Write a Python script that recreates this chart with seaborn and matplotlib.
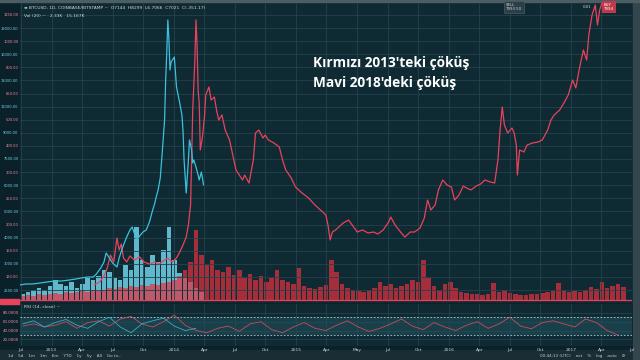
import numpy as np
import matplotlib
matplotlib.use('Agg')
import matplotlib.pyplot as plt
import seaborn as sns

# 2013 crash (red) and 2018 crash (cyan)
red_t = [4.1, 4.6, 5.0, 5.3, 5.6, 5.9, 6.2, 6.4, 6.6, 6.8, 7.1, 7.4, 7.8, 8.3, 8.7, 9.2, 9.7, 10.1,
         10.6, 10.9, 11.3, 11.7, 12.0, 12.3, 12.6, 12.8, 13.0, 13.1, 13.2, 13.4, 13.5, 13.6, 13.7,
         13.8, 13.9, 14.1, 14.3, 14.4, 14.7, 14.9, 15.2, 15.4, 15.6, 15.9, 16.2, 16.6, 16.8, 17.2,
         17.5, 17.8, 18.0, 18.4, 18.8, 19.0, 19.3, 19.7, 19.9, 20.2, 20.7, 21.2, 21.5, 21.8, 22.3,
         22.7, 23.3, 23.9, 24.5, 25.0, 25.5, 25.7, 25.9, 26.1, 26.4, 26.8, 27.1, 27.6, 28.0, 28.4,
         28.9, 29.4, 29.9, 30.3, 30.8, 31.3, 31.5, 31.9, 32.4, 32.8, 33.3, 33.7, 34.2, 34.6, 34.9,
         35.2, 35.6, 35.9, 36.3, 36.7, 37.1, 37.4, 37.8, 38.2, 38.5, 38.9, 39.4, 39.8, 40.2, 40.7,
         41.1, 41.4, 41.6, 41.8, 42.0, 42.3, 42.7, 42.9, 43.1, 43.2, 43.4, 43.8, 44.1, 44.6, 45.1,
         45.5, 46.0, 46.3, 46.6, 47.1, 47.5, 47.9, 48.3, 48.6, 48.9, 49.3, 49.6, 49.8, 50.1, 50.4,
         50.6, 50.8, 51.1, 51.4]
red_p = [15, 18, 24, 32, 45, 38, 62, 50, 56, 42, 38, 44, 40, 43, 38, 36, 38, 36,
         40, 42, 38, 42, 48, 55, 63, 75, 95, 140, 190, 240, 280, 255, 210,
         197, 150, 163, 185, 205, 213, 200, 203, 190, 180, 185, 170, 160, 150, 130,
         125, 120, 125, 117, 140, 167, 170, 162, 165, 160, 157, 153, 140, 130, 122,
         113, 107, 102, 95, 90, 85, 75, 60, 68, 70, 74, 77, 80, 74, 68,
         70, 67, 68, 66, 70, 78, 83, 75, 68, 63, 68, 68, 72, 82, 100,
         90, 95, 110, 120, 115, 113, 100, 105, 114, 112, 110, 114, 116, 120, 118,
         117, 140, 170, 193, 175, 167, 172, 167, 155, 125, 150, 148, 155, 157, 158,
         160, 170, 180, 185, 190, 197, 205, 220, 212, 230, 250, 240, 265, 285, 295,
         275, 290, 300, 310]

blue_t = [-2.8, -2.2, -1.6, -0.9, -0.3, 0.5, 1.1, 1.8, 2.4, 2.9, 3.5, 4.0, 4.3, 4.7, 5.0, 5.2,
          5.5, 5.8, 6.2, 6.4, 6.7, 7.1, 7.4, 7.6, 7.8, 8.0, 8.3, 8.6, 8.9, 9.2, 9.5, 9.7, 9.8,
          10.0, 10.2, 10.4, 10.6, 10.7, 10.8, 10.9, 11.0, 11.1, 11.2, 11.5, 11.7, 12.0, 12.2,
          12.3, 12.4, 12.6, 12.8, 12.9, 13.1, 13.2, 13.3, 13.5, 13.7, 13.8, 14.0, 14.2]
blue_p = [15, 16, 16, 17, 18, 19, 19, 20, 21, 22, 23, 23, 26, 32, 38, 47,
          42, 37, 33, 42, 52, 63, 70, 73, 67, 60, 64, 68, 70, 78, 90, 97, 102,
          110, 122, 150, 180, 220, 247, 280, 260, 230, 238, 243, 213, 197, 185,
          170, 140, 107, 140, 160, 150, 137, 140, 133, 125, 120, 128, 115]

# volume, half-month bars
red_vol = [4, 5, 4, 6, 5, 6, 7, 6, 8, 7, 8, 9, 8, 10, 9,
           10, 12, 11, 13, 12, 14, 13, 15, 14, 16, 15, 17, 18, 20,
           24, 30, 38, 70, 45, 35, 40, 30, 28, 33,
           25, 30, 22, 26, 20, 24, 18, 22, 30, 20, 18, 16,
           32, 14, 12, 11, 13, 15, 40, 28, 16,
           12, 10, 9, 8, 10, 12, 18, 14, 16, 12, 14,
           16, 20, 18, 40, 22, 14, 10, 16, 18, 12,
           8, 7, 6, 6, 5, 6, 17, 8, 10, 7, 6, 5, 5, 6,
           6, 7, 8, 9, 17, 10, 8, 9, 8, 10, 13, 11, 18, 12, 14, 16, 13]
blue_vol = [6, 8, 10, 12, 10, 14, 20, 16,
            14, 18, 12, 16, 22, 20, 24, 30,
            28, 22, 20, 35, 30, 73, 40, 33,
            45, 38, 50, 73, 40, 27, 22, 18, 12, 8]

# RSI (14, close), monthly
red_rsi = [50, 55, 48, 52, 60, 45, 58, 62, 50, 66, 72, 55, 48, 60, 75, 52, 40, 35, 45, 50, 38, 55,
           60, 42, 35, 48, 58, 45, 40, 52, 62, 48, 38, 45, 55, 66, 50, 42, 58, 48, 40, 52, 60, 45,
           55, 70, 50, 44, 58, 62, 55, 48, 66, 58, 40, 30]
blue_rsi = [55, 62, 48, 58, 65, 52, 45, 60, 70, 48, 35, 55, 62, 68, 50, 40, 45]

x_labels = ['Jul', '2013', 'Apr', 'Jul', 'Oct', '2014', 'Apr', 'Jul', 'Oct', '2015', 'Apr',
            'May', 'Jul', 'Oct', '2016', 'Apr', 'Jul', 'Oct', '2017', 'Apr', 'Jul']
red_axis = ['1250.00', '1000.00', '800.00', '650.00', '500.00', '400.00', '300.00', '250.00',
            '200.00', '150.00', '120.00']
blue_axis = ['19000.00', '16000.00', '13000.00', '11000.00', '9000.00', '7500.00', '6000.00',
             '5000.00', '4000.00', '3000.00', '2500.00']
rsi_ticks = [20, 40, 60, 80]

BG = '#0f2a33'
GRID = '#22444d'
RED = '#e8435c'
BLUE = '#3cc0dc'

sns.set_style('dark')
fig = plt.figure(figsize=(6.4, 3.6), dpi=100)
fig.patch.set_facecolor('#0b2129')

ax = fig.add_axes([20/640, 1-302/360, 612/640, 299/360])
ax2 = ax.twinx()
rsi = fig.add_axes([20/640, 1-346/360, 612/640, 42/360])

vol_x = np.arange(len(red_vol)) * 0.5 - 2.5
bvol_x = np.arange(len(blue_vol)) * 0.5 - 2.5
ax2.bar(bvol_x, blue_vol, width=0.42, color='#6fd2e8', alpha=0.85, linewidth=0)
ax2.bar(vol_x, red_vol, width=0.42, color='#e8303f', alpha=0.7, linewidth=0)
ax2.set_ylim(-2, 297)
ax2.axis('off')

sns.lineplot(x=red_t, y=red_p, ax=ax, color=RED, lw=0.9, estimator=None, sort=False)
sns.lineplot(x=blue_t, y=blue_p, ax=ax, color=BLUE, lw=0.9, estimator=None, sort=False)
ax.set_zorder(ax2.get_zorder() + 1)
ax.patch.set_visible(False)
ax2.set_zorder(0)

xt = -2.67 + 2.823 * np.arange(len(x_labels))
yt = 10 + 13.1 * np.arange(22)
for a in (ax, rsi):
    a.set_xlim(-2.76, 53.52)
    a.set_xticks(xt)
    a.grid(True, color=GRID, lw=0.6)
    a.tick_params(length=0, labelsize=3.2, colors='#c8d4d8', pad=1.5)
    for s in a.spines.values():
        s.set_visible(False)

ax.set_ylim(-2, 297)
ax.set_yticks(yt)
labels = []
for i in range(len(yt)):
    labels.append(red_axis[i // 2] if i % 2 == 0 else blue_axis[i // 2])
ax.set_yticklabels(labels[::-1])
ax.tick_params(axis='y', labelsize=2.6, pad=1)
for i, lab in enumerate(ax.get_yticklabels()):
    lab.set_color('#f08aa0' if (len(yt) - 1 - i) % 2 == 0 else '#6fd2e8')
ax.set_xticklabels([])
ax.set_xlabel('')
ax.set_ylabel('')
ax.axhline(0, color='#e8435c', lw=0.9)
fig.patches.append(plt.Rectangle((0, 1-304/360), 19/640, 5/360, transform=fig.transFigure,
                                 color='#e8435c', zorder=5))

# RSI panel
rsi.set_facecolor(BG)
rsi.set_ylim(5, 100)
rsi.axhspan(30, 70, color='#21505a', alpha=0.6, lw=0)
rsi.axhline(70, color='#b8ccd2', lw=0.6, ls=(0, (2, 2)))
rsi.axhline(30, color='#b8ccd2', lw=0.6, ls=(0, (2, 2)))
sns.lineplot(x=np.arange(len(red_rsi)) - 2.5, y=red_rsi, ax=rsi, color='#c84a5e', lw=0.6)
sns.lineplot(x=np.arange(len(blue_rsi)) - 2.5, y=blue_rsi, ax=rsi, color='#3aa8c4', lw=0.6)
rsi.set_yticks(rsi_ticks)
rsi.set_yticklabels([f'{v:.4f}' for v in rsi_ticks])
rsi.tick_params(axis='y', labelsize=2.8, pad=1)
for lab in rsi.get_yticklabels():
    lab.set_color('#f08aa0')
rsi.set_xticklabels(x_labels)
rsi.set_xlabel('')
rsi.set_ylabel('')
fig.patches.append(plt.Rectangle((20/640, 1-302/360), 612/640, 299/360, transform=fig.transFigure,
                                 color=BG, zorder=-10))

# header and toolbar texts
fig.text(24/640, 1-8/360, '≡ BTCUSD, 1D, COINBASE/BITSTAMP ~  O7144  H8299  L6.7066  C7021  C(-351.17)',
         fontsize=3.2, color='#d0d8dc', va='center')
fig.text(24/640, 1-16/360, 'Vol (20) ~   2.33K   15.167K', fontsize=3.2, color='#d0d8dc', va='center')
fig.text(24/640, 1-307/360, 'RSI (14, close) ~', fontsize=3.2, color='#d0d8dc', va='center')
fig.text(506/640, 1-7/360, 'SELL\n7993.50', fontsize=2.8, color='#d0d8dc', va='center',
         bbox=dict(boxstyle='square,pad=0.5', fc='#2c3e46', ec='#51636a', lw=0.4))
fig.text(583/640, 1-7/360, '0.01', fontsize=2.8, color='#d0d8dc', va='center')
fig.text(604/640, 1-7/360, 'BUY\n7994', fontsize=2.8, color='white', va='center',
         bbox=dict(boxstyle='square,pad=0.5', fc='#c0394b', ec='none'))
fig.patches.append(plt.Rectangle((0, 0), 1, 10/360, transform=fig.transFigure,
                                 color='#1a2d35', zorder=-5))
fig.patches.append(plt.Rectangle((633/640, 0), 7/640, 1, transform=fig.transFigure,
                                 color='#33454d', zorder=-5))
fig.patches.append(plt.Rectangle((0, 1-2/360), 1, 2/360, transform=fig.transFigure,
                                 color='#4d5d64', zorder=-5))
fig.text(8/640, 4.5/360, '1d    5d    1m    3m    6m    YTD    1y    5y    All    Go to...',
         fontsize=3, color='#c0ccd0', va='center')
fig.text(540/640, 4.5/360, '00:44:13 (UTC)    ext    %    log    auto    ⚙',
         fontsize=3, color='#c0ccd0', va='center')

fig.text(313/640, 1-63/360, "Kırmızı 2013'teki çöküş", fontsize=9.8, color='white',
         fontweight='bold', family='Open Sans', va='center')
fig.text(313/640, 1-83/360, "Mavi 2018'deki çöküş", fontsize=9.8, color='white',
         fontweight='bold', family='Open Sans', va='center')

fig.savefig('out.png', dpi=100, facecolor=fig.get_facecolor())
